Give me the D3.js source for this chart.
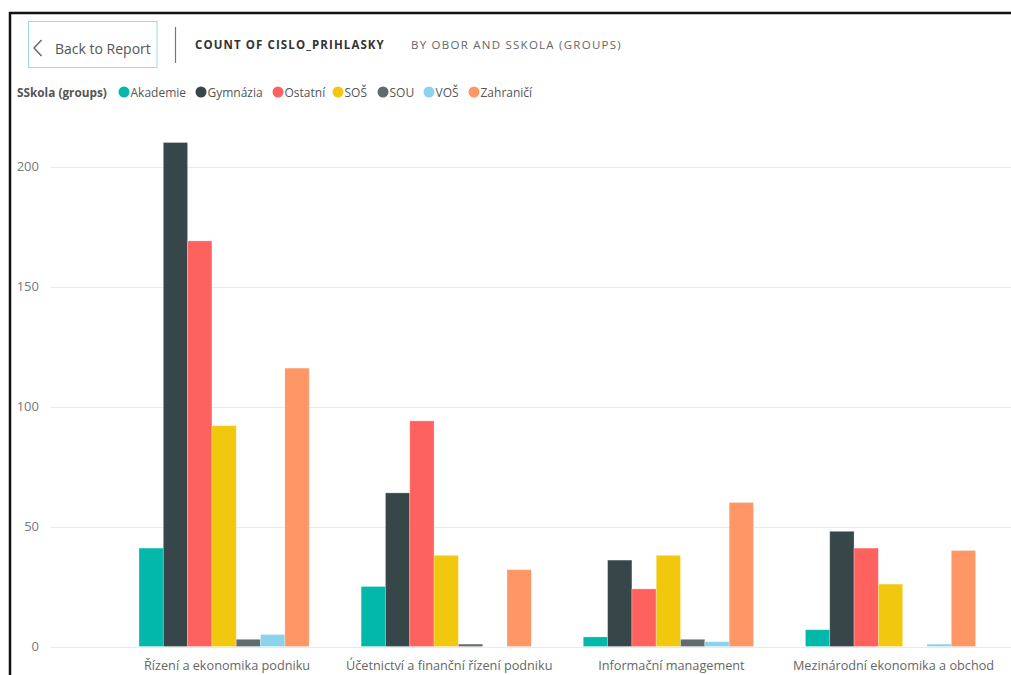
<!DOCTYPE html>
<html><head><meta charset="utf-8">
<script src="https://cdn.jsdelivr.net/npm/d3@7/dist/d3.min.js"></script>
<style>
body{margin:0;background:#fff;overflow:hidden;}
svg{display:block;font-family:"Open Sans","Noto Sans",sans-serif;}
</style></head><body>
<svg id="c" width="1011" height="675"></svg>
<script>
const categories = ["Řízení a ekonomika podniku","Účetnictví a finanční řízení podniku","Informační management","Mezinárodní ekonomika a obchod"];
const seriesNames = ["Akademie","Gymnázia","Ostatní","SOŠ","SOU","VOŠ","Zahraničí"];
const seriesColors = ["#01B8AA","#374649","#FD625E","#F2C80F","#5F6B6D","#8AD4EB","#FE9666"];
const akademie = [41,25,4,7];
const gymnazia = [210,64,36,48];
const ostatni = [169,94,24,41];
const sos = [92,38,38,26];
const sou = [3,1,3,0];
const vos = [5,0,2,1];
const zahranici = [116,32,60,40];
const yTicks = [0,50,100,150,200];
const seriesValues = [akademie,gymnazia,ostatni,sos,sou,vos,zahranici];

const svg = d3.select("#c");

// frame
svg.append("rect").attr("x",0).attr("y",0).attr("width",1011).attr("height",675).attr("fill","#fff");
svg.append("line").attr("x1",9).attr("x2",1011).attr("y1",13).attr("y2",13).attr("stroke","#111").attr("stroke-width",2.5);
svg.append("line").attr("x1",10).attr("x2",10).attr("y1",12).attr("y2",675).attr("stroke","#111").attr("stroke-width",2.5);

// back button
svg.append("rect").attr("x",28.5).attr("y",21.5).attr("width",128.5).attr("height",46).attr("fill","none").attr("stroke","#9fd8ea").attr("stroke-width",1);
svg.append("path").attr("d","M41.5,40 L34,48 L41.5,56").attr("fill","none").attr("stroke","#666").attr("stroke-width",1.4);
svg.append("text").attr("x",55).attr("y",54).attr("font-size",14).attr("fill","#555").attr("font-family","'Open Sans',sans-serif").text("Back to Report");
svg.append("line").attr("x1",175.5).attr("x2",175.5).attr("y1",27).attr("y2",63).attr("stroke","#777").attr("stroke-width",1.2);

// title
svg.append("text").attr("x",195).attr("y",49).attr("font-size",11.5).attr("font-weight","bold").attr("letter-spacing",1.1).attr("fill","#333").text("COUNT OF CISLO_PRIHLASKY");
svg.append("text").attr("x",411).attr("y",49).attr("font-size",11.5).attr("letter-spacing",1.25).attr("fill","#666").text("BY OBOR AND SSKOLA (GROUPS)");

// legend
svg.append("text").attr("x",17).attr("y",96.5).attr("font-size",11.8).attr("font-weight","bold").attr("fill","#555").text("SSkola (groups)");
const legendX = [124,201,278,338,383,429,474];
const lg = svg.append("g").selectAll("g").data(seriesNames).join("g")
  .attr("transform",(d,i)=>`translate(${legendX[i]},92)`);
lg.append("circle").attr("r",5.5).attr("fill",(d,i)=>seriesColors[i]);
lg.append("text").attr("x",6.5).attr("y",4.5).attr("font-size",12).attr("fill","#555").text(d=>d);

// scales
const y = d3.scaleLinear().domain([0,200]).range([646.5,166.5]);
const x0 = d3.scaleBand().domain(categories).range([113,1001.6]).paddingInner(0.234).paddingOuter(0.117);
const x1 = d3.scaleBand().domain(seriesNames).range([0,x0.bandwidth()]);

// grid + y axis
const yAxis = d3.axisLeft(y).tickValues(yTicks).tickSize(0).tickPadding(0);
const ga = svg.append("g").attr("transform","translate(39,0)").call(yAxis);
ga.select(".domain").remove();
ga.selectAll("text").attr("font-size",13).attr("fill","#777").attr("font-family","'Open Sans',sans-serif");
svg.append("g").selectAll("line").data(yTicks).join("line")
  .attr("x1",50).attr("x2",1011).attr("y1",d=>Math.round(y(d))+0.5).attr("y2",d=>Math.round(y(d))+0.5)
  .attr("stroke","#eaeaea").attr("stroke-width",1);

// bars
const groups = svg.append("g").selectAll("g").data(categories).join("g")
  .attr("transform",d=>`translate(${x0(d)},0)`);
groups.selectAll("rect").data((d,ci)=>seriesNames.map((s,si)=>({s,si,v:seriesValues[si][ci]})))
  .join("rect")
  .attr("x",d=>x1(d.s)).attr("width",x1.bandwidth())
  .attr("y",d=>y(d.v)).attr("height",d=>y(0)-y(d.v))
  .attr("fill",d=>seriesColors[d.si])
  .attr("stroke","rgba(255,255,255,0.35)").attr("stroke-width",0.8);

// x axis labels
const xAxis = d3.axisBottom(x0).tickSize(0).tickPadding(0);
const gx = svg.append("g").attr("transform","translate(3,661)").call(xAxis);
gx.select(".domain").remove();
gx.selectAll("text").attr("font-size",12.7).attr("fill","#666").attr("font-family","'Open Sans',sans-serif");
</script></body></html>
